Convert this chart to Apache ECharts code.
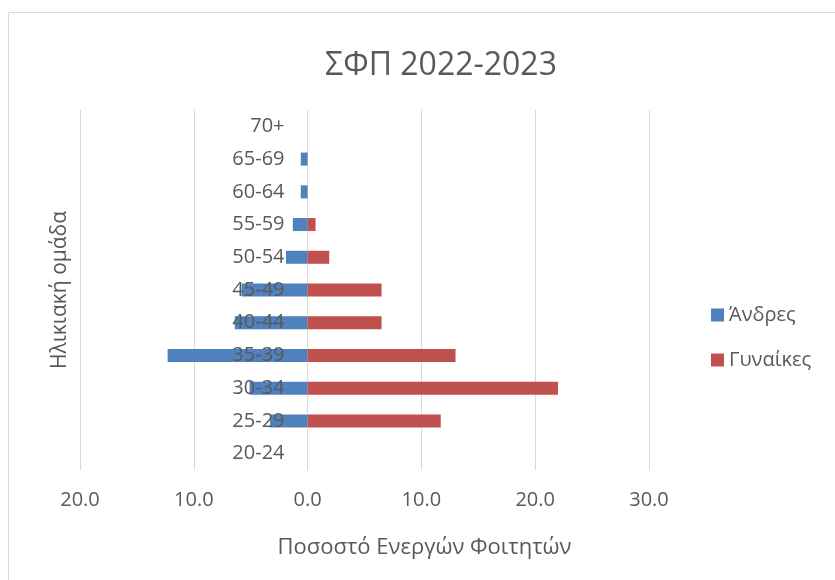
<!DOCTYPE html>
<html>
<head>
<meta charset="utf-8">
<script src="https://cdn.jsdelivr.net/npm/echarts@6/dist/echarts.min.js"></script>
<style>html,body{margin:0;padding:0;background:#fff}#c{width:835px;height:580px}</style>
</head>
<body>
<div id="c"></div>
<script>
const titleText = 'ΣΦΠ 2022-2023';
const categories = ['20-24','25-29','30-34','35-39','40-44','45-49','50-54','55-59','60-64','65-69','70+'];
const seriesNames = ['Άνδρες','Γυναίκες'];
const men = [0, -3.3, -5.1, -12.3, -6.4, -5.8, -1.9, -1.3, -0.6, -0.6, 0];
const women = [0, 11.7, 22.0, 13.0, 6.5, 6.5, 1.9, 0.7, 0, 0, 0];
const xAxisName = 'Ποσοστό Ενεργών Φοιτητών';
const yAxisName = 'Ηλικιακή ομάδα';

const FONT = 'Open Sans';
const TXT = '#595959';
const chart = echarts.init(document.getElementById('c'), null, {renderer: 'canvas'});
chart.setOption({
  animation: false,
  textStyle: {fontFamily: FONT},
  title: {
    text: titleText, left: 436, top: 45, textAlign: 'center',
    textStyle: {fontFamily: FONT, fontSize: 32, fontWeight: 'normal', color: TXT}
  },
  legend: {
    orient: 'vertical', left: 706, top: 300,
    itemWidth: 13, itemHeight: 13, itemGap: 25, icon: 'rect',
    textStyle: {fontFamily: FONT, fontSize: 20, color: TXT},
    data: seriesNames
  },
  grid: {left: 80, right: 186, top: 110, bottom: 110, containLabel: false, outerBoundsMode: 'none'},
  xAxis: {
    type: 'value', min: -20, max: 30, interval: 10,
    axisLine: {show: false}, axisTick: {show: false},
    splitLine: {lineStyle: {color: '#d9d9d9', width: 1}},
    axisLabel: {
      margin: 20, fontSize: 20, color: TXT, fontFamily: FONT,
      formatter: v => Math.abs(v).toFixed(1)
    },
    name: xAxisName, nameLocation: 'middle', nameGap: 67,
    nameTextStyle: {fontSize: 22, color: TXT, fontFamily: FONT, padding: [0, 0, 0, 120]}
  },
  yAxis: {
    type: 'category', data: categories,
    offset: -227.5, z: 10,
    axisLine: {show: false, onZero: false}, axisTick: {show: false},
    splitLine: {show: false},
    axisLabel: {margin: 23, fontSize: 20, color: TXT, fontFamily: FONT},
    name: yAxisName, nameLocation: 'middle', nameGap: 237,
    nameTextStyle: {fontSize: 21, color: TXT, fontFamily: FONT}
  },
  series: [
    {name: seriesNames[0], type: 'bar', data: men, barWidth: 13, barGap: '-100%',
     itemStyle: {color: '#4F81BD'}, z: 2},
    {name: seriesNames[1], type: 'bar', data: women, barWidth: 13, barGap: '-100%',
     itemStyle: {color: '#C0504D'}, z: 2}
  ],
  graphic: [{
    type: 'rect', shape: {x: 8.5, y: 12.5, width: 840, height: 580},
    style: {fill: 'none', stroke: '#d9d9d9', lineWidth: 1}, silent: true
  }]
});
</script>
</body>
</html>
